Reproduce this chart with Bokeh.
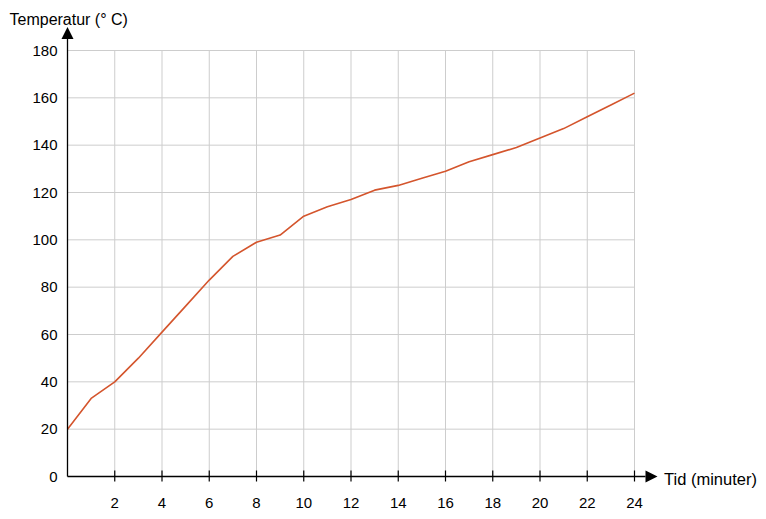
from bokeh.plotting import figure
from bokeh.models import Range1d, Arrow, NormalHead
from bokeh.core.properties import value
from bokeh.embed import file_html
from bokeh.resources import INLINE

# Data
minutes = list(range(25))
temps = [20, 33, 40, 50, 61, 72, 83, 93, 99, 102, 110, 114, 117, 121, 123,
         126, 129, 133, 136, 139, 143, 147, 152, 157, 162]
x_ticks = [2, 4, 6, 8, 10, 12, 14, 16, 18, 20, 22, 24]
y_ticks = [0, 20, 40, 60, 80, 100, 120, 140, 160, 180]
x_tick_labels = [str(t) for t in x_ticks]
y_tick_labels = [str(t) for t in y_ticks]
x_max, y_max = 24, 180

W, H = 766, 519
ox, oy = 67, 476          # page position of the origin
px_x = 567 / 24.0
px_y = 426 / 180.0

def dx(px):
    return px / px_x

def dy(px):
    return px / px_y

p = figure(width=W, height=H, output_backend="svg", toolbar_location=None,
           x_range=Range1d(-ox / px_x, (W - ox) / px_x),
           y_range=Range1d(-(H - oy) / px_y, oy / px_y),
           x_axis_location=None, y_axis_location=None,
           min_border=0, min_border_left=0, min_border_right=0,
           min_border_top=0, min_border_bottom=0)
p.outline_line_color = None
p.grid.grid_line_color = None
p.background_fill_color = "white"

FONT = value("Liberation Sans")
GRID = "#cdcdcd"

# grid lines
p.segment(x0=x_ticks, y0=[0] * len(x_ticks), x1=x_ticks, y1=[y_max] * len(x_ticks),
          line_color=GRID, line_width=1)
hy = [t for t in y_ticks if t > 0]
p.segment(x0=[0] * len(hy), y0=hy, x1=[x_max] * len(hy), y1=hy,
          line_color=GRID, line_width=1)

# data line
p.line(minutes, temps, line_color="#d4552d", line_width=1.6)

# axis arrows
p.add_layout(Arrow(x_start=0, y_start=0, x_end=dx(657 - ox), y_end=0, line_color="black",
                   line_width=1.3,
                   end=NormalHead(size=12, fill_color="black", line_color=None)))
p.add_layout(Arrow(x_start=0, y_start=0, x_end=0, y_end=dy(oy - 26.5), line_color="black",
                   line_width=1.3,
                   end=NormalHead(size=12, fill_color="black", line_color=None)))

# x ticks
p.segment(x0=x_ticks, y0=[dy(-5)] * len(x_ticks), x1=x_ticks, y1=[dy(6)] * len(x_ticks),
          line_color="black", line_width=1.2)

# tick labels
p.text(x=x_ticks, y=[dy(-(502 - oy))] * len(x_ticks), text=x_tick_labels,
       text_font=FONT, text_font_size="15px", text_align="center",
       text_baseline="middle", text_color="black")
p.text(x=[dx(-10)] * len(y_ticks), y=y_ticks, text=y_tick_labels,
       text_font=FONT, text_font_size="15px", text_align="right",
       text_baseline="middle", text_color="black")

# axis titles
p.text(x=[dx(9 - ox)], y=[dy(oy - 18.5)], text=["Temperatur (° C)"],
       text_font=FONT, text_font_size="16px", text_align="left",
       text_baseline="alphabetic", text_color="black")
p.text(x=[dx(663.5 - ox)], y=[dy(oy - 478)], text=["Tid (minuter)"],
       text_font=FONT, text_font_size="16.5px", text_align="left",
       text_baseline="middle", text_color="black")

open("out.html", "w").write(file_html(p, INLINE))
